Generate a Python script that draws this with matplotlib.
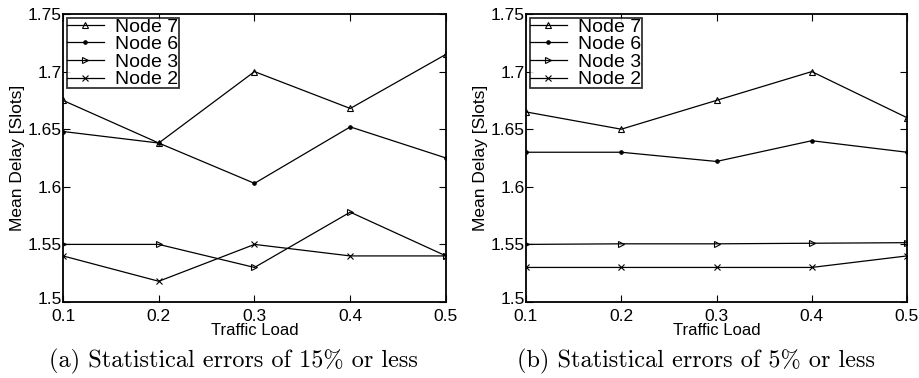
import matplotlib
matplotlib.use("Agg")
import matplotlib.pyplot as plt
from matplotlib import font_manager
from matplotlib.transforms import ScaledTranslation

load = [0.1, 0.2, 0.3, 0.4, 0.5]
series_names = ["Node 7", "Node 6", "Node 3", "Node 2"]
a_node7 = [1.675, 1.638, 1.700, 1.668, 1.715]
a_node6 = [1.648, 1.638, 1.603, 1.652, 1.625]
a_node3 = [1.550, 1.550, 1.530, 1.578, 1.540]
a_node2 = [1.540, 1.518, 1.550, 1.540, 1.540]
b_node7 = [1.665, 1.650, 1.675, 1.700, 1.660]
b_node6 = [1.630, 1.630, 1.622, 1.640, 1.630]
b_node3 = [1.550, 1.5505, 1.5505, 1.551, 1.5515]
b_node2 = [1.530, 1.530, 1.530, 1.530, 1.540]
yticks = [1.5, 1.55, 1.6, 1.65, 1.7, 1.75]
ytick_labels = ["1.5", "1.55", "1.6", "1.65", "1.7", "1.75"]
xtick_labels = ["0.1", "0.2", "0.3", "0.4", "0.5"]
captions = ["(a) Statistical errors of 15% or less", "(b) Statistical errors of 5% or less"]

names = {f.name for f in font_manager.fontManager.ttflist}
sans = "Liberation Sans Narrow" if "Liberation Sans Narrow" in names else "Liberation Sans"
plt.rcParams['font.family'] = [sans, 'DejaVu Sans']

markers = ['^', '.', '>', 'x']
msizes = [5, 5, 5, 4]

fig = plt.figure(figsize=(9.2, 3.78), dpi=100)
W, H = 920, 378
axes_px = [(63, 14, 446, 302), (526, 14, 907, 302)]
caption_cx = [233, 696]
data = [[a_node7, a_node6, a_node3, a_node2], [b_node7, b_node6, b_node3, b_node2]]

for i, (x0, y0, x1, y1) in enumerate(axes_px):
    ax = fig.add_axes([x0 / W, 1 - y1 / H, (x1 - x0) / W, (y1 - y0) / H])
    for vals, name, m, ms in zip(data[i], series_names, markers, msizes):
        ax.plot(load, vals, color='black', lw=0.9, marker=m, markersize=ms,
                markerfacecolor='none' if m in ('^', '>') else 'black',
                markeredgecolor='black', markeredgewidth=0.8, label=name)
    ax.set_xlim(0.1, 0.5)
    ax.set_ylim(1.5, 1.75)
    ax.set_xticks(load)
    ax.set_xticklabels(xtick_labels)
    ax.set_yticks(yticks)
    ax.set_yticklabels(ytick_labels)
    ax.tick_params(direction='in', top=True, right=True, length=5, width=0.8,
                   labelsize=12.5)
    ax.tick_params(axis='x', pad=5)
    ax.tick_params(axis='y', pad=1)
    lab = ax.get_yticklabels()[0]
    lab.set_transform(lab.get_transform() + ScaledTranslation(0, 3 / 72, fig.dpi_scale_trans))
    for s in ax.spines.values():
        s.set_linewidth(1.3)
    ax.set_xlabel("Traffic Load", fontsize=12, labelpad=-1)
    ax.set_ylabel("Mean Delay [Slots]", fontsize=12.5, labelpad=2)
    leg = ax.legend(loc='upper left', fontsize=14, frameon=True, fancybox=False,
                    borderpad=0.0, labelspacing=0.0, handlelength=1.9,
                    handletextpad=0.6, borderaxespad=0.2)
    leg.get_frame().set_edgecolor('black')
    leg.get_frame().set_linewidth(1.3)
    fig.text(caption_cx[i] / W, 1 - 361 / H, captions[i], ha='center', va='center',
             fontsize=17.5, family=['cmr10', 'DejaVu Serif'])

fig.savefig("out.png", dpi=100)
